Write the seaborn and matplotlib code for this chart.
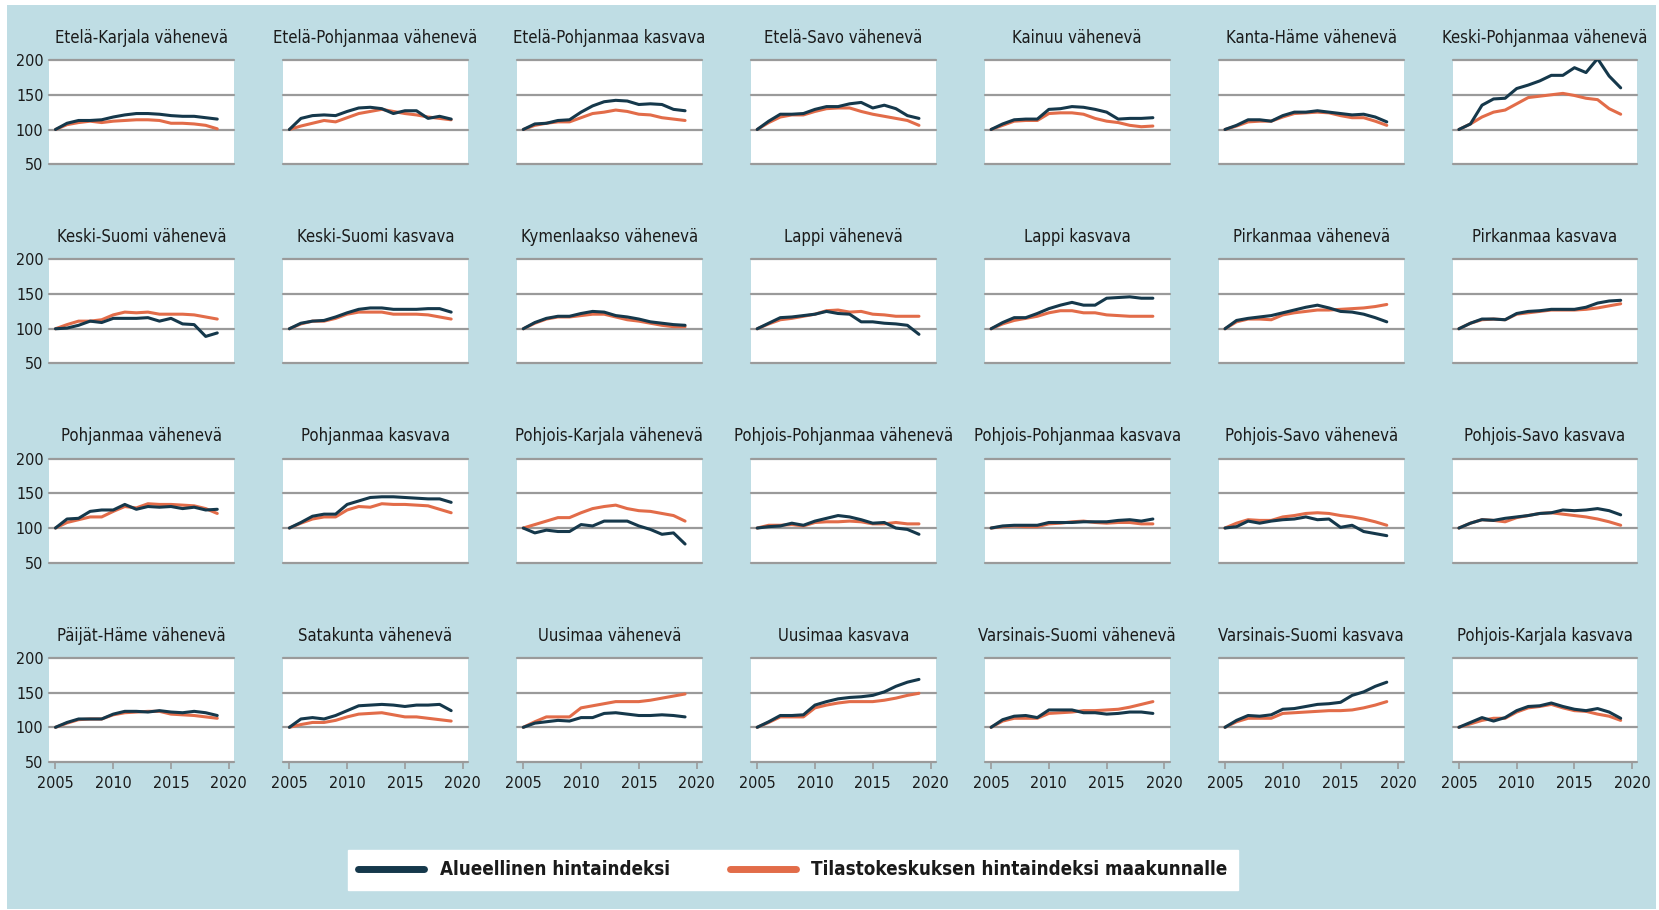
import matplotlib
matplotlib.use("Agg")
import pandas as pd
import matplotlib.pyplot as plt
import seaborn as sns
from matplotlib import font_manager as fm
from matplotlib.font_manager import FontProperties
from matplotlib.lines import Line2D
from matplotlib.patches import Rectangle

sns.set_theme(style="white")
plt.rcParams["font.family"] = ["Roboto", "DejaVu Sans"]

BG = "#bfdde4"
NAVY = "#15384b"
ORANGE = "#e26c49"
GRID = "#9a9a9a"

years = list(range(2005, 2020))

titles = [
    "Etelä-Karjala vähenevä", "Etelä-Pohjanmaa vähenevä", "Etelä-Pohjanmaa kasvava",
    "Etelä-Savo vähenevä", "Kainuu vähenevä", "Kanta-Häme vähenevä", "Keski-Pohjanmaa vähenevä",
    "Keski-Suomi vähenevä", "Keski-Suomi kasvava", "Kymenlaakso vähenevä",
    "Lappi vähenevä", "Lappi kasvava", "Pirkanmaa vähenevä", "Pirkanmaa kasvava",
    "Pohjanmaa vähenevä", "Pohjanmaa kasvava", "Pohjois-Karjala vähenevä",
    "Pohjois-Pohjanmaa vähenevä", "Pohjois-Pohjanmaa kasvava", "Pohjois-Savo vähenevä", "Pohjois-Savo kasvava",
    "Päijät-Häme vähenevä", "Satakunta vähenevä", "Uusimaa vähenevä",
    "Uusimaa kasvava", "Varsinais-Suomi vähenevä", "Varsinais-Suomi kasvava", "Pohjois-Karjala kasvava",
]

# Alueellinen hintaindeksi, 2005-2019 (2005 = 100)
alueellinen = [
    [100, 109, 113, 113, 114, 118, 121, 123, 123, 122, 120, 119, 119, 117, 115],
    [100, 116, 120, 121, 120, 126, 131, 132, 130, 123, 127, 127, 116, 119, 115],
    [100, 108, 109, 113, 114, 125, 134, 140, 142, 141, 136, 137, 136, 129, 127],
    [100, 112, 122, 122, 123, 129, 133, 133, 137, 139, 131, 135, 130, 120, 116],
    [100, 108, 114, 115, 115, 129, 130, 133, 132, 129, 125, 115, 116, 116, 117],
    [100, 106, 114, 114, 112, 120, 125, 125, 127, 125, 123, 121, 122, 118, 111],
    [100, 108, 135, 144, 145, 159, 164, 170, 178, 178, 189, 182, 202, 177, 160],
    [100, 101, 105, 111, 109, 115, 115, 115, 116, 111, 115, 107, 106, 89, 94],
    [100, 108, 111, 112, 117, 123, 128, 130, 130, 128, 128, 128, 129, 129, 124],
    [100, 109, 115, 118, 118, 122, 125, 124, 119, 117, 114, 110, 108, 106, 105],
    [100, 108, 116, 117, 119, 121, 125, 122, 121, 110, 110, 108, 107, 105, 92],
    [100, 109, 116, 116, 122, 129, 134, 138, 134, 134, 144, 145, 146, 144, 144],
    [100, 112, 115, 117, 119, 123, 127, 131, 134, 130, 125, 124, 121, 116, 110],
    [100, 108, 114, 114, 113, 122, 125, 126, 128, 128, 128, 131, 137, 140, 141],
    [100, 113, 114, 124, 126, 126, 134, 127, 131, 130, 131, 128, 130, 126, 127],
    [100, 108, 117, 120, 120, 134, 139, 144, 145, 145, 144, 143, 142, 142, 137],
    [100, 93, 97, 95, 95, 105, 103, 110, 110, 110, 103, 98, 91, 93, 77],
    [100, 102, 103, 107, 104, 110, 114, 118, 116, 112, 107, 108, 100, 98, 91],
    [100, 103, 104, 104, 104, 108, 108, 108, 109, 109, 109, 111, 112, 110, 113],
    [100, 102, 110, 107, 110, 112, 113, 116, 112, 113, 101, 104, 95, 92, 89],
    [100, 107, 112, 111, 114, 116, 118, 121, 122, 126, 125, 126, 128, 125, 119],
    [100, 107, 112, 112, 112, 119, 123, 123, 122, 124, 122, 121, 123, 121, 117],
    [100, 112, 114, 112, 117, 124, 131, 132, 133, 132, 130, 132, 132, 133, 124],
    [100, 106, 108, 110, 109, 114, 114, 120, 121, 119, 117, 117, 118, 117, 115],
    [100, 108, 117, 117, 118, 132, 137, 141, 143, 144, 146, 151, 159, 165, 169],
    [100, 111, 116, 117, 114, 125, 125, 125, 121, 121, 119, 120, 122, 122, 120],
    [100, 110, 117, 116, 118, 126, 127, 130, 133, 134, 136, 146, 151, 159, 165],
    [100, 107, 114, 109, 114, 124, 130, 131, 135, 130, 126, 124, 127, 122, 113],
]

# Tilastokeskuksen hintaindeksi maakunnalle, 2005-2019 (2005 = 100)
tilastokeskus = [
    [100, 107, 110, 112, 110, 112, 113, 114, 114, 113, 109, 109, 108, 106, 101],
    [100, 105, 109, 113, 111, 117, 123, 126, 129, 126, 123, 121, 118, 116, 114],
    [100, 106, 109, 111, 111, 117, 123, 125, 128, 126, 122, 121, 117, 115, 113],
    [100, 110, 118, 121, 121, 126, 130, 131, 131, 126, 122, 119, 116, 113, 106],
    [100, 106, 112, 113, 113, 123, 124, 124, 122, 116, 112, 110, 106, 104, 105],
    [100, 105, 111, 112, 112, 118, 123, 124, 125, 124, 120, 117, 117, 112, 106],
    [100, 108, 118, 125, 128, 137, 146, 148, 150, 152, 149, 145, 143, 130, 122],
    [100, 106, 111, 111, 113, 120, 124, 123, 124, 121, 121, 121, 120, 117, 114],
    [100, 107, 111, 111, 115, 121, 124, 124, 124, 121, 121, 121, 120, 117, 114],
    [100, 108, 114, 117, 117, 119, 121, 121, 117, 113, 111, 108, 105, 103, 103],
    [100, 107, 113, 115, 118, 121, 126, 127, 124, 125, 121, 120, 118, 118, 118],
    [100, 107, 112, 115, 118, 123, 126, 126, 123, 123, 120, 119, 118, 118, 118],
    [100, 110, 114, 114, 113, 120, 123, 125, 127, 127, 128, 129, 130, 132, 135],
    [100, 108, 113, 114, 113, 121, 123, 125, 127, 127, 127, 128, 130, 133, 136],
    [100, 108, 112, 116, 116, 124, 131, 129, 135, 134, 134, 133, 132, 128, 121],
    [100, 107, 113, 116, 116, 126, 131, 130, 135, 134, 134, 133, 132, 127, 122],
    [100, 105, 110, 115, 115, 122, 128, 131, 133, 128, 125, 124, 121, 118, 110],
    [100, 104, 104, 105, 103, 108, 109, 109, 110, 109, 106, 106, 108, 106, 106],
    [100, 102, 103, 102, 102, 106, 107, 109, 110, 108, 107, 108, 108, 106, 106],
    [100, 107, 112, 111, 111, 116, 118, 121, 122, 121, 118, 116, 113, 109, 104],
    [100, 107, 112, 111, 109, 115, 118, 121, 122, 120, 118, 116, 113, 109, 104],
    [100, 106, 111, 112, 112, 118, 121, 122, 123, 123, 119, 118, 117, 115, 113],
    [100, 104, 107, 107, 110, 115, 119, 120, 121, 118, 115, 115, 113, 111, 109],
    [100, 108, 115, 115, 115, 128, 131, 134, 137, 137, 137, 139, 142, 145, 148],
    [100, 107, 115, 115, 115, 128, 132, 135, 137, 137, 137, 139, 142, 146, 149],
    [100, 109, 113, 113, 113, 120, 121, 122, 124, 124, 125, 126, 129, 133, 137],
    [100, 108, 113, 113, 113, 120, 121, 122, 123, 124, 124, 125, 128, 132, 137],
    [100, 105, 110, 113, 113, 122, 128, 130, 133, 128, 124, 123, 119, 116, 110],
]

S_ALUE = "Alueellinen hintaindeksi"
S_TK = "Tilastokeskuksen hintaindeksi maakunnalle"

rows = []
for t, a, s in zip(titles, alueellinen, tilastokeskus):
    for y, va, vs in zip(years, a, s):
        rows.append((t, y, S_ALUE, va))
        rows.append((t, y, S_TK, vs))
df = pd.DataFrame(rows, columns=["alue", "vuosi", "sarja", "indeksi"])


def find_condensed(bold):
    # narrow font if the system happens to have one
    for f in fm.fontManager.ttflist:
        p = f.fname.lower()
        if "italic" in p or "oblique" in p:
            continue
        if not ("condensed" in p or "narrow" in p):
            continue
        if bold and f.weight in (700, "bold"):
            return f.fname
        if not bold and f.weight in (400, "normal", "regular"):
            return f.fname
    return None


reg_path = find_condensed(False)
bold_path = find_condensed(True)
if reg_path:
    title_fp = FontProperties(fname=reg_path, size=12)
    tick_fp = FontProperties(fname=reg_path, size=11.5)
else:
    title_fp = FontProperties(family="Roboto", size=9.8)
    tick_fp = FontProperties(family="Roboto", size=9.9)
if bold_path:
    leg_fp = FontProperties(fname=bold_path, size=13.5)
else:
    leg_fp = FontProperties(family="Roboto", weight="bold", size=11.6)

fig, axes = plt.subplots(4, 7, figsize=(16.59, 9.10), dpi=100, sharex=True, sharey=True)
fig.patch.set_facecolor("white")
fig.add_artist(Rectangle((7 / 1659, 1 / 910), 1649 / 1659, 904 / 910,
                         transform=fig.transFigure, facecolor=BG, edgecolor="none", zorder=-1))
fig.subplots_adjust(left=0.0296, right=0.987, top=0.934, bottom=0.1626, wspace=0.265, hspace=0.913)

for i, (ax, t) in enumerate(zip(axes.flat, titles)):
    sub = df[df["alue"] == t]
    sns.lineplot(data=sub, x="vuosi", y="indeksi", hue="sarja", hue_order=[S_TK, S_ALUE],
                 palette=[ORANGE, NAVY], linewidth=2.2, legend=False, ax=ax)
    ax.set_facecolor("white")
    ax.set_xlim(2004.45, 2020.45)
    ax.set_ylim(50, 200)
    ax.set_yticks([50, 100, 150, 200])
    ax.set_xticks([2005, 2010, 2015, 2020])
    ax.set_xlabel("")
    ax.set_ylabel("")
    for sp in ax.spines.values():
        sp.set_visible(False)
    ax.grid(axis="y", color=GRID, linewidth=1.6)
    ax.grid(axis="x", visible=False)
    ax.set_axisbelow(True)
    for gl in ax.get_ygridlines():
        gl.set_clip_on(False)
    ax.set_title(t, fontproperties=title_fp, color="#1a1a1a", pad=12.5)
    ax.tick_params(axis="y", length=0, pad=4)
    if i // 7 == 3:
        ax.tick_params(axis="x", length=5, width=1.2, color=GRID, pad=5, bottom=True)
    else:
        ax.tick_params(axis="x", length=0)
    for lab in ax.get_xticklabels() + ax.get_yticklabels():
        lab.set_fontproperties(tick_fp)
        lab.set_color("#1a1a1a")

handles = [Line2D([], [], color=NAVY, linewidth=5, solid_capstyle="round"),
           Line2D([], [], color=ORANGE, linewidth=5, solid_capstyle="round")]
leg = fig.legend(handles, [S_ALUE, S_TK], loc="center", bbox_to_anchor=(0.478, 0.044), ncol=2,
                 frameon=True, fancybox=False, facecolor="white", edgecolor="white", framealpha=1,
                 prop=leg_fp, handlelength=3.5, handletextpad=0.85, columnspacing=3.2,
                 borderpad=0.55, borderaxespad=0)
for txt in leg.get_texts():
    txt.set_color("#1a1a1a")

fig.savefig("out.png", dpi=100, facecolor=fig.get_facecolor())
